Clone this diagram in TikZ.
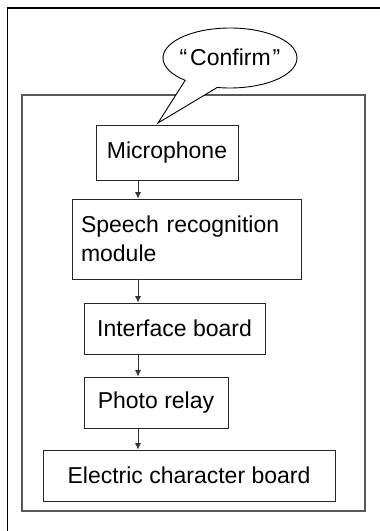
\documentclass[tikz,border=0pt]{standalone}
\usepackage{fontspec}
\setmainfont{Liberation Sans}
\usetikzlibrary{arrows.meta, calc}

\begin{document}
\begin{tikzpicture}[
	x=1pt, y=-1pt,
	unit/.style={rectangle, draw=black!85, line width=0.9pt, inner sep=0pt, font=\fontsize{23}{29}\selectfont},
	flow/.style={draw=black!80, line width=0.7pt, -{Latex[length=6.5pt,width=6pt]}},
	frame/.style={line width=1.4pt}
	]
	
	% Page
	\useasboundingbox (0,0) rectangle (380,531);
	\clip (0,0) rectangle (380,531);
	\fill[white] (0,0) rectangle (380,531);
	
	% Frames
	\draw[frame, black] (7.5,8) rectangle (400,560);
	\draw[frame, black!65] (22,95) rectangle (365,511);
	
	% Speech bubble
	\coordinate (tip) at (158,123);
	\draw[line width=0.9pt, fill=white] (tip) -- ($(230,58)+(132:67 and 30)$)
		arc[start angle=132, end angle=461, x radius=67, y radius=30] -- cycle;
	\node[font=\fontsize{23}{29}\selectfont] (said) at (230,57) {“\kern3pt Confirm\kern2pt”};
	
	% Blocks
	\node[unit, minimum width=142, minimum height=55] (mic) at (167,152.5) {Microphone};
	\node[unit, minimum height=80, text width=211, inner xsep=9pt, align=left] (speech) at (186.5,239) {Speech recognition\\module};
	\node[unit, minimum width=181, minimum height=51] (iface) at (174.5,328.5) {Interface board};
	\node[unit, minimum width=144, minimum height=51] (relay) at (156,402.5) {Photo relay};
	\node[unit, minimum width=292, minimum height=51] (board) at (189,475.5) {Electric character board};
	
	% Signal path
	\coordinate (axis) at (138,0);
	\draw[flow] (mic.south -| axis) -- (speech.north -| axis);
	\draw[flow] (speech.south -| axis) -- (iface.north -| axis);
	\draw[flow] (iface.south -| axis) -- (relay.north -| axis);
	\draw[flow] (relay.south -| axis) -- (board.north -| axis);
	
\end{tikzpicture}
\end{document}
